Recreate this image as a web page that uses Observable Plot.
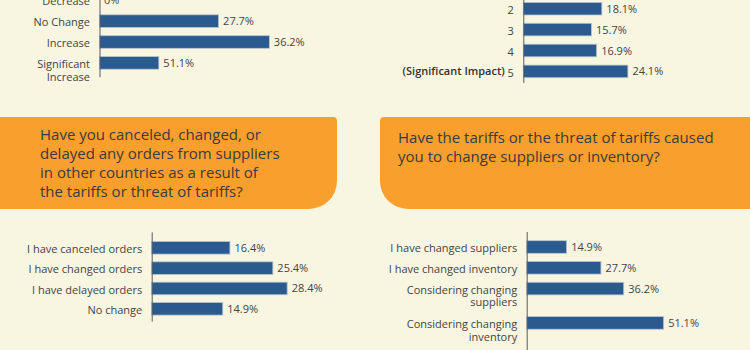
<!DOCTYPE html>
<html>
<head>
<meta charset="utf-8">
<script src="https://cdn.jsdelivr.net/npm/d3@7"></script>
<script src="https://cdn.jsdelivr.net/npm/@observablehq/plot@0.6"></script>
<style>
  html, body { margin: 0; padding: 0; background: #f8f5e1; }
  #wrap { position: relative; width: 750px; height: 350px; overflow: hidden; background: #f8f5e1; font-family: "Open Sans", sans-serif; }
  .box { position: absolute; background: #f99f2d; }
  .q { position: absolute; color: #3b3b3b; font-size: 15px; line-height: 19px; white-space: pre-line; }
  .layer { position: absolute; left: 0; top: 0; }
</style>
</head>
<body>
<div id="wrap">
  <div class="box" style="left:0;top:117px;width:337px;height:92px;border-radius:0 4px 28px 0;"></div>
  <div class="box" style="left:380px;top:117px;width:380px;height:92px;border-radius:4px 0 0 28px;"></div>
  <div class="q" id="q1" style="left:40px;top:125px;"></div>
  <div class="q" id="q2" style="left:398px;top:128px;"></div>
</div>
<script>
// ---- Data ----
// Top-left panel (bar lengths as drawn, labels as printed)
const changeCategories = ["Decrease", "No Change", "Increase", "Significant\nIncrease"];
const changeBarValues = [0, 27.7, 39.5, 13.8];
const changeLabels = ["0%", "27.7%", "36.2%", "51.1%"];

// Top-right panel
const impactCategories = ["2", "3", "4", "5"];
const impactValues = [18.1, 15.7, 16.9, 24.1];
const impactNotes = ["", "", "", "(Significant Impact)"];

// Bottom-left panel
const ordersQuestion = "Have you canceled, changed, or\ndelayed any orders from suppliers\nin other countries as a result of\nthe tariffs or threat of tariffs?";
const orderCategories = ["I have canceled orders", "I have changed orders", "I have delayed orders", "No change"];
const orderValues = [16.4, 25.4, 28.4, 14.9];

// Bottom-right panel
const suppliersQuestion = "Have the tariffs or the threat of tariffs caused\nyou to change suppliers or inventory?";
const supplierCategories = ["I have changed suppliers", "I have changed inventory", "Considering changing\nsuppliers", "Considering changing\ninventory"];
const supplierValues = [14.9, 27.7, 36.2, 51.1];

document.getElementById("q1").textContent = ordersQuestion;
document.getElementById("q2").textContent = suppliersQuestion;

const BLUE = "#2a5a8e";
const TEXT = "#444444";

function panel({cats, values, labels, notes, axisX, pxPerPct, firstRow, rowStep, axisPad}) {
  let pos = 0;
  const rows = cats.map((c, i) => {
    const r = {
      cat: c,
      value: values[i],
      label: labels ? labels[i] : values[i].toFixed(1) + "%",
      note: notes ? notes[i] : "",
      pos
    };
    pos += 1 + 0.65 * (c.split("\n").length - 1);
    return r;
  });
  const half = 6.3 / rowStep;
  const first = rows[0].pos, last = rows[rows.length - 1].pos;
  return Plot.plot({
    width: 750,
    height: 350,
    margin: 0,
    style: "background: transparent; overflow: visible; font-family: 'Open Sans', sans-serif; font-size: 11px;",
    x: {domain: [0, 100], range: [axisX, axisX + 100 * pxPerPct], axis: null},
    y: {type: "linear", domain: [0, 1], range: [firstRow, firstRow + rowStep], axis: null},
    marks: [
      Plot.rect(rows, {x1: 0, x2: "value", y1: d => d.pos - half, y2: d => d.pos + half, fill: BLUE, stroke: "#b9c4d1", strokeWidth: 0.8}),
      Plot.ruleX([0], {y1: first - axisPad[0], y2: last + axisPad[1], stroke: "#5c5c5c", strokeWidth: 1}),
      Plot.text(rows, {x: 0, y: "pos", text: "cat", textAnchor: "end", dx: -10, lineAnchor: "top", dy: -4.3, lineHeight: 1.15, fill: TEXT, fontSize: 11}),
      Plot.text(rows.filter(d => d.note), {x: 0, y: "pos", text: "note", textAnchor: "end", dx: -19, fill: "#333", fontWeight: 600, fontSize: 11}),
      Plot.text(rows, {x: "value", y: "pos", text: "label", textAnchor: "start", dx: 4, fill: TEXT, fontSize: 11})
    ]
  });
}

const wrap = document.getElementById("wrap");
const specs = [
  {cats: changeCategories, values: changeBarValues, labels: changeLabels, axisX: 99.5, pxPerPct: 4.3, firstRow: 0.2, rowStep: 20.9, axisPad: [1, 0.68]},
  {cats: impactCategories, values: impactValues, notes: impactNotes, axisX: 523.3, pxPerPct: 4.34, firstRow: 8.7, rowStep: 20.9, axisPad: [1, 0.56]},
  {cats: orderCategories, values: orderValues, axisX: 151.7, pxPerPct: 4.77, firstRow: 247.8, rowStep: 20.33, axisPad: [0.76, 0.63]},
  {cats: supplierCategories, values: supplierValues, axisX: 526.7, pxPerPct: 2.68, firstRow: 247, rowStep: 20.8, axisPad: [0.72, 1.4]}
];
for (const s of specs) {
  const svg = panel(s);
  svg.classList.add("layer");
  svg.style.position = "absolute";
  svg.style.left = "0px";
  svg.style.top = "0px";
  wrap.appendChild(svg);
}
</script>
</body>
</html>
